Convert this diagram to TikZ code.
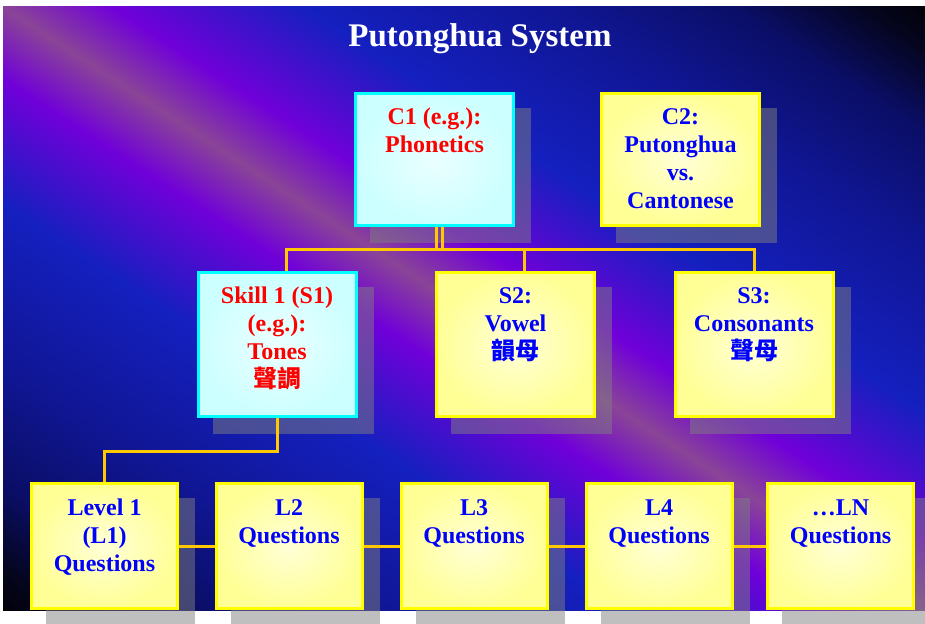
\documentclass[tikz,border=0pt]{standalone}
\usepackage{fontspec}
\setmainfont{Liberation Serif}
\newfontfamily\cjk{Noto Sans CJK TC}
\usetikzlibrary{calc}
\definecolor{boxyel}{RGB}{255,255,150}
\definecolor{boxyelc}{RGB}{255,255,215}
\definecolor{boxcyan}{RGB}{204,255,255}
\definecolor{boxcyanc}{RGB}{235,255,255}
\definecolor{edgeyel}{RGB}{255,255,0}
\definecolor{edgecyan}{RGB}{0,255,255}
\definecolor{connc}{RGB}{255,200,0}
\definecolor{txtred}{RGB}{255,0,0}
\definecolor{txtblue}{RGB}{0,0,255}
\pgfdeclareverticalshading{bgshade}{100bp}{rgb(0bp)=(0,0,0); rgb(25bp)=(0,0,0); rgb(27.45bp)=(0.02,0.02,0.12); rgb(30.77bp)=(0.04,0.055,0.40); rgb(35.58bp)=(0.063,0.086,0.58); rgb(42.07bp)=(0.08,0.125,0.75); rgb(47.12bp)=(0.44,0,0.85); rgb(50bp)=(0.54,0.27,0.59); rgb(52.88bp)=(0.44,0,0.85); rgb(57.93bp)=(0.08,0.125,0.75); rgb(64.42bp)=(0.063,0.086,0.58); rgb(69.23bp)=(0.04,0.055,0.40); rgb(72.55bp)=(0.02,0.02,0.12); rgb(75bp)=(0,0,0); rgb(100bp)=(0,0,0)}
\pgfdeclarelayer{bgl}\pgfdeclarelayer{shl}\pgfdeclarelayer{cnl}
\pgfsetlayers{bgl,shl,cnl,main}
\begin{document}
\begin{tikzpicture}[x=1pt,y=-1pt,
  ybox/.style={rectangle, draw=edgeyel, line width=3pt, inner color=boxyelc, outer color=boxyel, inner sep=0pt},
  cbox/.style={rectangle, draw=edgecyan, line width=3pt, inner color=boxcyanc, outer color=boxcyan, inner sep=0pt},
  topbox/.style={minimum width=158pt, minimum height=132pt},
  midbox/.style={minimum width=158pt, minimum height=144pt},
  lowbox/.style={minimum width=146pt, minimum height=125pt},
  txt/.style={inner sep=0pt, align=center, anchor=north, font=\fontsize{24}{28}\selectfont\bfseries},
  shadowc/.style={fill=black!50, fill opacity=0.5},
  conn/.style={draw=connc, line width=3pt}]
\useasboundingbox (0,0) rectangle (925,623);

% boxes
\node[cbox, topbox] (c1) at (434.5,159.5) {};
\node[ybox, topbox] (c2) at (680.5,159.5) {};
\node[cbox, midbox] (s1) at (277,344.5) {};
\node[ybox, midbox] (s2) at (515.5,344.5) {};
\node[ybox, midbox] (s3) at (754,344.5) {};
\node[ybox, lowbox] (l1) at (104.5,546) {};
\node[ybox, lowbox] (l2) at (289,546) {};
\node[ybox, lowbox] (l3) at (474,546) {};
\node[ybox, lowbox] (l4) at (659,546) {};
\node[ybox, lowbox] (ln) at (840.5,546) {};

% texts
\node[font=\fontsize{33}{38}\selectfont\bfseries, text=white, anchor=base, inner sep=0pt] (title) at (480,47) {Putonghua System};
\node[txt, text=txtred] (c1t) at ([yshift=-12.4pt]c1.north) {\strut C1 (e.g.):\\Phonetics};
\node[txt, text=txtblue] (c2t) at ([yshift=-12.4pt]c2.north) {\strut C2:\\Putonghua\\vs.\\Cantonese};
\node[txt, text=txtred] (s1t) at ([yshift=-12.4pt]s1.north) {\strut Skill 1 (S1)\\(e.g.):\\Tones\\{\cjk 聲調}};
\node[txt, text=txtblue] (s2t) at ([yshift=-12.4pt]s2.north) {\strut S2:\\Vowel\\{\cjk 韻母}};
\node[txt, text=txtblue] (s3t) at ([yshift=-12.4pt]s3.north) {\strut S3:\\Consonants\\{\cjk 聲母}};
\node[txt, text=txtblue] (l1t) at ([yshift=-13.4pt]l1.north) {\strut Level 1\\(L1)\\Questions};
\node[txt, text=txtblue] (l2t) at ([yshift=-13.4pt]l2.north) {\strut L2\\Questions};
\node[txt, text=txtblue] (l3t) at ([yshift=-13.4pt]l3.north) {\strut L3\\Questions};
\node[txt, text=txtblue] (l4t) at ([yshift=-13.4pt]l4.north) {\strut L4\\Questions};
\node[txt, text=txtblue] (lnt) at ([yshift=-13.4pt]ln.north) {\strut …LN\\Questions};

% background
\begin{pgfonlayer}{bgl}
  \fill[white] (0,0) rectangle (925,623);
  \begin{scope}
    \clip (3,7) rectangle (925,610);
    \begin{scope}[transform canvas={rotate around={-33.18:(464,308.5)}}]
      \shade[shading=bgshade] (-236,-211.5) rectangle (1164,828.5);
    \end{scope}
  \end{scope}
\end{pgfonlayer}

% shadows
\begin{pgfonlayer}{shl}
  \foreach \n in {c1,c2,s1,s2,s3,l1,l2,l3,l4,ln}
    \fill[shadowc] ([shift={(16,16)}]\n.north west) rectangle ([shift={(16,16)}]\n.south east);
\end{pgfonlayer}

% connectors
\begin{pgfonlayer}{cnl}
  \draw[conn] ([xshift=1.5pt]c1.south) -- ++(0,22);
  \draw[conn] ([xshift=7.5pt]c1.south) -- ++(0,22);
  \draw[conn] ([xshift=9pt]s1.north) -- ++(0,-22) -| (s3.north);
  \draw[conn] ([xshift=8.5pt]s2.north) -- ++(0,-22);
  \draw[conn] (s1.south) -- ++(0,33) -| (l1.north);
  \draw[conn] (l1.east) -- (l2.west);
  \draw[conn] (l2.east) -- (l3.west);
  \draw[conn] (l3.east) -- (l4.west);
  \draw[conn] (l4.east) -- (ln.west);
\end{pgfonlayer}
\end{tikzpicture}
\end{document}
